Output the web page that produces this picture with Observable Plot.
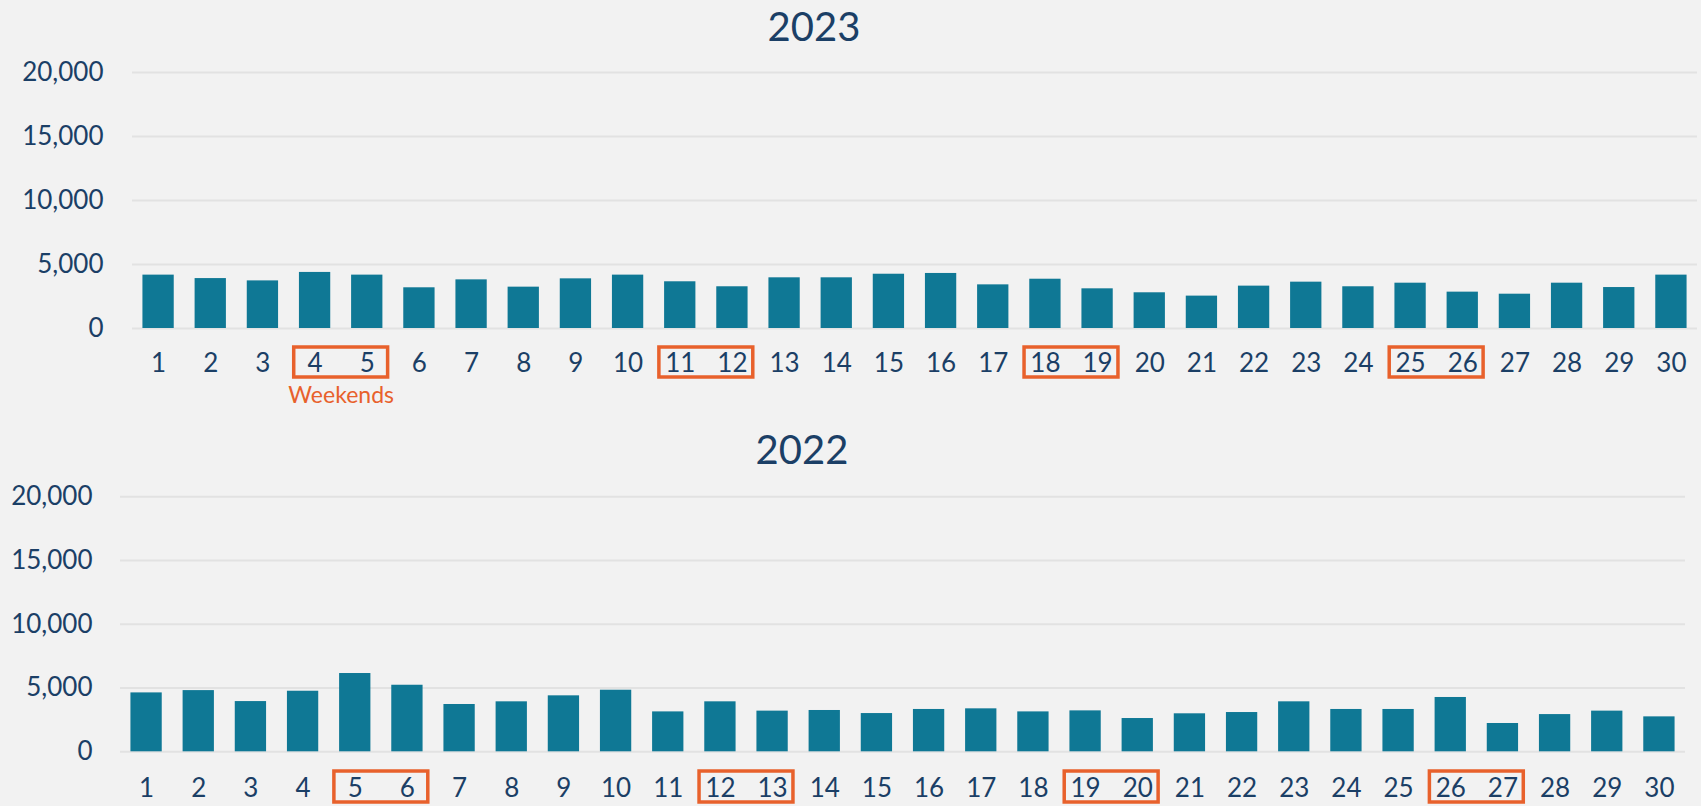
<!DOCTYPE html>
<html>
<head>
<meta charset="utf-8">
<script src="https://cdn.jsdelivr.net/npm/d3@7"></script>
<script src="https://cdn.jsdelivr.net/npm/@observablehq/plot@0.6"></script>
<style>
  html, body { margin: 0; padding: 0; background: #F2F2F2; }
  body { width: 1701px; height: 806px; overflow: hidden; font-family: Lato, "Open Sans", sans-serif; }
  #wrap { position: relative; width: 1701px; height: 806px; }
  .chart { position: absolute; left: 0; }
  .title { position: absolute; font-size: 40px; line-height: 40px; color: #1B3F66; transform: translateX(-50%); white-space: nowrap; }
</style>
</head>
<body>
<div id="wrap"></div>
<script>
// ---- data ----
const days = [1,2,3,4,5,6,7,8,9,10,11,12,13,14,15,16,17,18,19,20,21,22,23,24,25,26,27,28,29,30];
const values2023 = [4170,3900,3720,4380,4170,3180,3800,3230,3880,4170,3650,3260,3960,3960,4240,4300,3410,3850,3100,2790,2530,3310,3620,3260,3540,2840,2680,3540,3200,4170];
const values2022 = [4620,4800,3940,4750,6140,5220,3710,3920,4390,4830,3130,3920,3190,3240,3000,3320,3370,3130,3210,2610,2980,3080,3920,3320,3320,4260,2220,2920,3190,2740];
const weekends2023 = [4, 11, 18, 25];
const weekends2022 = [5, 12, 19, 26];
const yTicks = [0, 5000, 10000, 15000, 20000];
const titles = ["2023", "2022"];
const noteText = "Weekends";

// ---- styles ----
const TEXT = "#1B3F66";
const BAR = "#0F7895";
const ORANGE = "#E8612C";
const GRID = "#E2E2E2";
const FONT = "Lato, 'Open Sans', sans-serif";

function makeChart(cfg) {
  const data = days.map((d, i) => ({day: d, value: cfg.values[i]}));
  const innerH = cfg.height - cfg.marginTop - cfg.marginBottom;
  const marks = [
    Plot.gridY(yTicks, {stroke: GRID, strokeOpacity: 1, strokeWidth: 2}),
    Plot.rectY(data, {x1: d => d.day - 0.3, x2: d => d.day + 0.3, y: "value", fill: BAR}),
    Plot.axisY(yTicks, {tickSize: 0, tickPadding: cfg.yPad, tickFormat: d3.format(","), fontSize: 26, fill: TEXT, label: null}),
    Plot.axisX(days, {tickSize: 0, tickPadding: cfg.xPad, tickFormat: d => String(d), fontSize: 26, fill: TEXT, label: null}),
    Plot.rect(cfg.weekends, {
      x1: d => d - 0.4, x2: d => d + 1.4,
      insetTop: innerH + cfg.boxTop, insetBottom: -cfg.boxBottom,
      stroke: ORANGE, strokeWidth: 3.5, fill: "none"
    })
  ];
  if (cfg.note) {
    marks.push(Plot.text([cfg.weekends[0] + 0.5], {
      x: d => d, frameAnchor: "bottom", dy: 74, text: () => noteText,
      fill: ORANGE, fontSize: 23
    }));
  }
  return Plot.plot({
    width: 1701, height: cfg.height,
    marginLeft: cfg.marginLeft, marginRight: cfg.marginRight,
    marginTop: cfg.marginTop, marginBottom: cfg.marginBottom,
    style: {background: "transparent", fontFamily: FONT, fontSize: "26px", color: TEXT, overflow: "visible"},
    x: {domain: [0.5, 30.5]},
    y: {domain: [0, 20000]},
    marks
  });
}

const wrap = document.getElementById("wrap");

const c1 = makeChart({
  values: values2023, weekends: weekends2023, note: true,
  height: 410, marginTop: 72, marginBottom: 82, marginLeft: 132, marginRight: 4,
  yPad: 29, xPad: 25.5, boxTop: 19, boxBottom: 49
});
c1.classList.add("chart"); c1.style.top = "0px";
wrap.appendChild(c1);

const c2 = makeChart({
  values: values2022, weekends: weekends2022, note: false,
  height: 396, marginTop: 86.3, marginBottom: 54.7, marginLeft: 120, marginRight: 16,
  yPad: 28, xPad: 27.2, boxTop: 19.7, boxBottom: 50.7
});
c2.classList.add("chart"); c2.style.top = "410px";
wrap.appendChild(c2);

const t1 = document.createElement("div");
t1.className = "title"; t1.textContent = titles[0];
t1.style.left = "814px"; t1.style.top = "5.5px";
wrap.appendChild(t1);

const t2 = document.createElement("div");
t2.className = "title"; t2.textContent = titles[1];
t2.style.left = "802px"; t2.style.top = "428.5px";
wrap.appendChild(t2);
</script>
</body>
</html>
